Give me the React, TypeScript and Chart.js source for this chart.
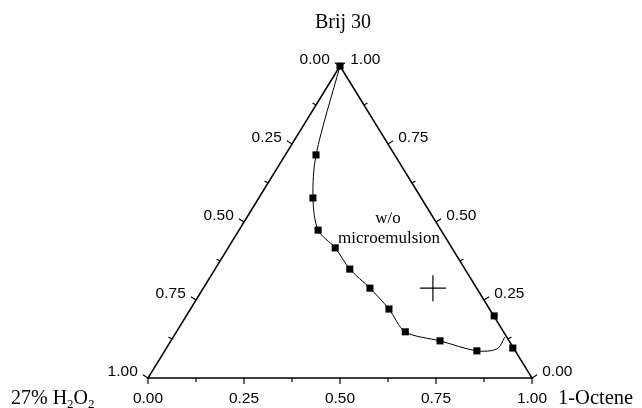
import React, { useEffect, useRef } from "react";
import { Chart, registerables } from "chart.js";

Chart.register(...registerables);

// Phase-boundary points (mass fractions): Brij 30 and 1-Octene (H2O2 = 1 - both)
const boundaryBrij = [1.0, 0.715, 0.577, 0.474, 0.417, 0.349, 0.288, 0.221, 0.148, 0.119, 0.087];
const boundaryOctene = [0.0, 0.08, 0.141, 0.206, 0.279, 0.351, 0.434, 0.517, 0.596, 0.701, 0.813];
// Points on the Brij–Octene edge
const edgeBrij = [0.199, 0.096];
const edgeOctene = [0.802, 0.902];
// Tail of the fitted boundary curve
const tailBrij = [0.093, 0.131];
const tailOctene = [0.862, 0.864];
// Cross marker
const crossBrij = [0.288];
const crossOctene = [0.598];

const majorTicks = [0, 0.25, 0.5, 0.75, 1];
const tickLabels = ["0.00", "0.25", "0.50", "0.75", "1.00"];
const minorTicks = [0.125, 0.375, 0.625, 0.875];

const title = "Brij 30";
const regionLabel = ["w/o", "microemulsion"];

// ternary (brij, octene) -> cartesian in triangle units
const cart = (b: number, o: number) => ({ x: o + b / 2, y: b });

const SANS = "Liberation Sans, Arial, sans-serif";
const SERIF = "Liberation Serif, Times New Roman, serif";

const ternaryPlugin = {
  id: "ternaryFrame",
  beforeDatasetsDraw(chart: any) {
    const ctx = chart.ctx as CanvasRenderingContext2D;
    const sx = chart.scales.x;
    const sy = chart.scales.y;
    const P = (X: number, Y: number) => [sx.getPixelForValue(X), sy.getPixelForValue(Y)];
    const BL = P(0, 0);
    const BR = P(1, 0);
    const T = P(0.5, 1);
    ctx.save();
    ctx.strokeStyle = "#000";
    ctx.lineWidth = 1.5;
    ctx.beginPath();
    ctx.moveTo(BL[0], BL[1]);
    ctx.lineTo(BR[0], BR[1]);
    ctx.lineTo(T[0], T[1]);
    ctx.closePath();
    ctx.stroke();

    const lx = T[0] - BL[0], ly = T[1] - BL[1];
    const ll = Math.hypot(lx, ly);
    const nL = [ly / ll, -lx / ll];
    const nR = [-nL[0], nL[1]];
    const nB = [0, 1];

    const leftPt = (h: number) => { const c = cart(1 - h, 0); return P(c.x, c.y); };
    const rightPt = (b: number) => { const c = cart(b, 1 - b); return P(c.x, c.y); };
    const botPt = (o: number) => { const c = cart(0, o); return P(c.x, c.y); };

    const tick = (p: number[], n: number[], len: number) => {
      ctx.beginPath();
      ctx.moveTo(p[0], p[1]);
      ctx.lineTo(p[0] + n[0] * len, p[1] + n[1] * len);
      ctx.stroke();
    };
    ctx.lineWidth = 1.2;
    majorTicks.forEach((v) => {
      tick(leftPt(v), nL, 6);
      tick(rightPt(v), nR, 6);
      tick(botPt(v), nB, 6);
    });
    minorTicks.forEach((v) => {
      tick(leftPt(v), nL, 4);
      tick(rightPt(v), nR, 4);
      tick(botPt(v), nB, 4);
    });
    ctx.restore();
  },
  afterDraw(chart: any) {
    const ctx = chart.ctx as CanvasRenderingContext2D;
    const sx = chart.scales.x;
    const sy = chart.scales.y;
    const P = (X: number, Y: number) => [sx.getPixelForValue(X), sy.getPixelForValue(Y)];
    const BL = P(0, 0);
    const T = P(0.5, 1);
    const lx = T[0] - BL[0], ly = T[1] - BL[1];
    const ll = Math.hypot(lx, ly);
    const nL = [ly / ll, -lx / ll];
    const nR = [-nL[0], nL[1]];
    ctx.save();
    ctx.fillStyle = "#000";
    ctx.font = `15.5px ${SANS}`;
    ctx.textBaseline = "middle";
    majorTicks.forEach((v, i) => {
      const cl = cart(1 - v, 0);
      const pl = P(cl.x, cl.y);
      ctx.textAlign = "right";
      ctx.fillText(tickLabels[i], pl[0] + nL[0] * 12, pl[1] + nL[1] * 12);
      const cr = cart(v, 1 - v);
      const pr = P(cr.x, cr.y);
      ctx.textAlign = "left";
      ctx.fillText(tickLabels[i], pr[0] + nR[0] * 12, pr[1] + nR[1] * 12);
      const cb = cart(0, v);
      const pb = P(cb.x, cb.y);
      ctx.textAlign = "center";
      ctx.fillText(tickLabels[i], pb[0], pb[1] + 21);
    });

    // title
    ctx.font = `20px ${SERIF}`;
    ctx.textAlign = "center";
    ctx.textBaseline = "alphabetic";
    ctx.fillText(title, T[0] + 3, 28);

    // axis names
    const base = BL[1] + 26;
    ctx.textAlign = "left";
    let x = 11;
    const parts: [string, boolean][] = [["27% H", false], ["2", true], ["O", false], ["2", true]];
    parts.forEach(([s, sub]) => {
      ctx.font = sub ? `13px ${SERIF}` : `20px ${SERIF}`;
      ctx.fillText(s, x, sub ? base + 4 : base);
      x += ctx.measureText(s).width;
    });
    ctx.font = `20.5px ${SERIF}`;
    ctx.fillText("1-Octene", 558, base);

    // region label
    ctx.font = `17px ${SERIF}`;
    ctx.textAlign = "center";
    ctx.fillText(regionLabel[0], 388, 223);
    ctx.fillText(regionLabel[1], 389, 243);
    ctx.restore();
  },
};

export default function App() {
  const ref = useRef<HTMLCanvasElement | null>(null);
  useEffect(() => {
    document.body.style.margin = "0";
    const curve = [
      ...boundaryBrij.map((b, i) => cart(b, boundaryOctene[i])),
      ...tailBrij.map((b, i) => cart(b, tailOctene[i])),
    ];
    const markers = [
      ...boundaryBrij.map((b, i) => cart(b, boundaryOctene[i])),
      ...edgeBrij.map((b, i) => cart(b, edgeOctene[i])),
    ];
    const cross = crossBrij.map((b, i) => cart(b, crossOctene[i]));
    const chart = new Chart(ref.current as HTMLCanvasElement, {
      type: "scatter",
      data: {
        datasets: [
          {
            data: markers,
            pointStyle: "rect",
            pointRadius: 5,
            pointBackgroundColor: "#000",
            pointBorderColor: "#000",
            pointBorderWidth: 0,
            showLine: false,
            clip: false,
          } as any,
          {
            data: curve,
            showLine: true,
            tension: 0.3,
            borderColor: "#000",
            borderWidth: 1,
            pointRadius: 0,
            clip: false,
          } as any,
          {
            data: cross,
            pointStyle: "cross",
            pointRadius: 13,
            pointBorderColor: "#000",
            pointBorderWidth: 1.2,
            showLine: false,
            clip: false,
          } as any,
        ],
      },
      options: {
        animation: false,
        responsive: false,
        maintainAspectRatio: false,
        layout: { padding: { left: 148, right: 110, top: 66, bottom: 30 } },
        plugins: { legend: { display: false }, tooltip: { enabled: false }, title: { display: false } },
        events: [],
        scales: {
          x: { type: "linear", min: 0, max: 1, display: false },
          y: { type: "linear", min: 0, max: 1, display: false },
        },
      },
      plugins: [ternaryPlugin],
    });
    return () => chart.destroy();
  }, []);
  return (
    <div style={{ width: 642, height: 408, background: "#fff" }}>
      <canvas ref={ref} width={642} height={408} style={{ display: "block" }} />
    </div>
  );
}
